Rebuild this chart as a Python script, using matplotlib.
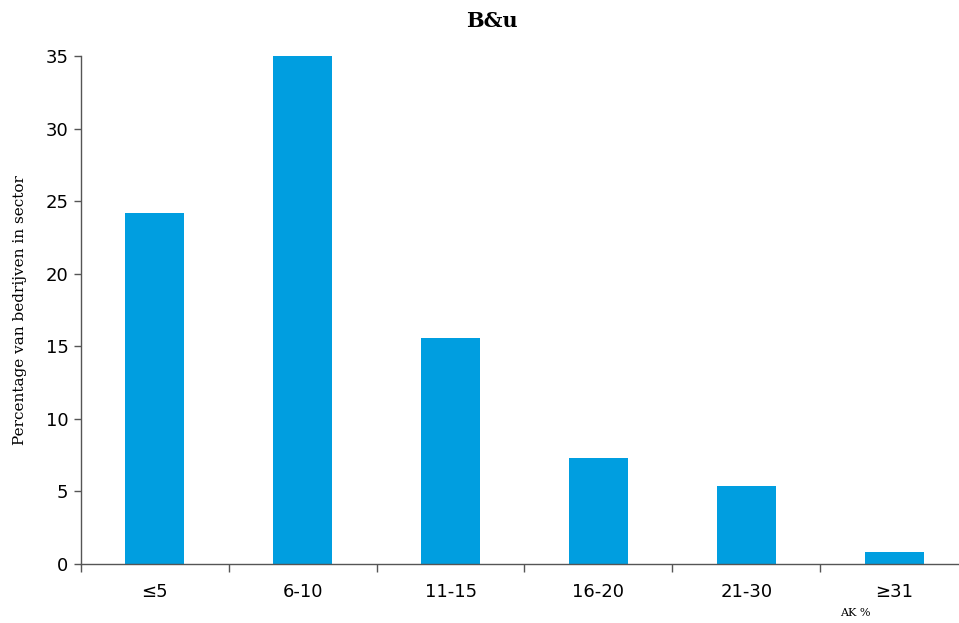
import numpy as np
import matplotlib
matplotlib.use("Agg")
import matplotlib.pyplot as plt

categories = ["≤5", "6-10", "11-15", "16-20", "21-30", "≥31"]
values = [24.2, 35.1, 15.6, 7.3, 5.4, 0.8]
y_ticks = [0, 5, 10, 15, 20, 25, 30, 35]

bar_color = "#009EE0"
axis_color = "#555555"

fig = plt.figure(figsize=(9.59, 6.23), dpi=100)
ax = fig.add_axes([81 / 959, 1 - 564 / 623, (968 - 81) / 959, (564 - 56) / 623])

x = np.arange(len(categories))
ax.bar(x, values, width=0.4, color=bar_color, zorder=2)

ax.set_xlim(-0.5, len(categories) - 0.5)
ax.set_ylim(0, 35)
ax.set_yticks(y_ticks)
ax.set_xticks(x)
ax.set_xticklabels(categories)
ax.set_xticks(np.arange(len(categories) + 1) - 0.5, minor=True)

ax.tick_params(axis="x", which="major", length=0, pad=14, labelsize=13)
ax.tick_params(axis="x", which="minor", length=6, width=1, color=axis_color, direction="out")
ax.tick_params(axis="y", length=5, width=1, color=axis_color, labelsize=13, pad=4)

for side in ["top", "right"]:
    ax.spines[side].set_visible(False)
for side in ["left", "bottom"]:
    ax.spines[side].set_color(axis_color)
    ax.spines[side].set_linewidth(1)

ax.set_ylabel("Percentage van bedrijven in sector", family="DejaVu Serif",
              fontsize=11, labelpad=13)
fig.text(492 / 959, 1 - 21 / 623, "B&u", family="DejaVu Serif",
         fontweight="bold", fontsize=15, ha="center", va="center")
fig.text(855 / 959, 1 - 613 / 623, "AK %", family="DejaVu Serif",
         fontsize=8, ha="center", va="center")

fig.savefig("out.png", dpi=100)
